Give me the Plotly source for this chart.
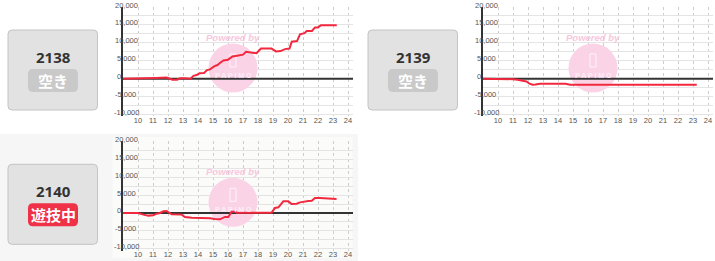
import plotly.graph_objects as go

W, H = 715, 261

# ---------------- data ----------------
machines = ["2138", "2139", "2140"]
statuses = ["空き", "空き", "遊技中"]

hours_2138 = [9, 11.0, 11.2, 11.9, 12.1, 12.3, 12.6, 12.8, 13.1, 13.3, 13.5, 13.7, 13.9,
              14.1, 14.4, 14.6, 14.8, 15.1, 15.3, 15.5, 15.7, 16.0, 16.3, 16.6, 17.0,
              17.2, 17.5, 17.9, 18.2, 18.9, 19.2, 19.5, 19.8, 20.1, 20.25, 20.6, 20.8,
              21.1, 21.25, 21.6, 21.8, 22.0, 22.2, 23.25]
values_2138 = [0, 0, 200, 300, 0, -300, -300, 100, 100, 0, 0, 800, 1000,
               1500, 1600, 2400, 2600, 3500, 3800, 4500, 5100, 5300, 6200, 6400, 6700,
               7500, 7300, 7100, 8400, 8400, 7600, 7700, 8250, 8400, 10300, 10500, 12400,
               12700, 13300, 13300, 14300, 14300, 14900, 14900]

hours_2139 = [9, 10.6, 11.0, 11.3, 11.6, 11.9, 12.1, 12.3, 12.5, 12.8, 14.5, 14.8, 23.25]
values_2139 = [0, 0, -150, -300, -500, -800, -1400, -1700, -1650, -1400, -1400, -1700, -1700]

hours_2140 = [9, 10.0, 10.36, 10.69, 11.02, 11.24, 11.47, 11.69, 11.91, 12.13, 12.24, 12.91,
              13.13, 13.58, 14.58, 14.8, 15.13, 15.47, 15.8, 16.02, 16.24, 16.47, 16.58,
              18.91, 19.13, 19.36, 19.69, 20.02, 20.24, 20.58, 20.8, 21.13, 21.36, 21.58,
              21.8, 22.13, 22.58, 23.24]
values_2140 = [0, 0, -460, -740, -650, -190, 0, 460, 560, 0, -370, -460,
               -1110, -1300, -1300, -1480, -1670, -1760, -1110, -1110, 370, 370, 90,
               90, 1390, 1570, 3240, 3240, 2500, 2590, 2960, 3060, 3330, 3430,
               4170, 4170, 3980, 3890]

series_hours = [hours_2138, hours_2139, hours_2140]
series_values = [values_2138, values_2139, values_2140]

x_tick_vals = list(range(10, 25))
x_tick_text = [str(v) for v in x_tick_vals]
y_tick_vals = [20000, 15000, 10000, 5000, 0, -5000, -10000]
y_tick_text = ["20,000", "15,000", "10,000", "5,000", "0", "-5,000", "-10,000"]
y_grid_vals = list(range(-10000, 20001, 2500))

# ---------------- geometry (pixels) ----------------
charts = [(123, 7), (483, 7), (123, 141.3)]  # (y-axis x pixel, 20000-line y pixel)
PLOT_W = 230
PLOT_H = 109.3
X_RANGE = [9, 9 + PLOT_W / 15]
Y_RANGE = [-10500, 20000]
PX_PER_UNIT_Y = PLOT_H / (Y_RANGE[1] - Y_RANGE[0])
PX_PER_UNIT_X = PLOT_W / (X_RANGE[1] - X_RANGE[0])


def fx(p):
    return p / W


def fy(p):
    return 1 - p / H


def rrect(x0, y0, x1, y1, r):
    pts = [
        f"M {fx(x0 + r)},{fy(y0)}",
        f"L {fx(x1 - r)},{fy(y0)}",
        f"Q {fx(x1)},{fy(y0)} {fx(x1)},{fy(y0 + r)}",
        f"L {fx(x1)},{fy(y1 - r)}",
        f"Q {fx(x1)},{fy(y1)} {fx(x1 - r)},{fy(y1)}",
        f"L {fx(x0 + r)},{fy(y1)}",
        f"Q {fx(x0)},{fy(y1)} {fx(x0)},{fy(y1 - r)}",
        f"L {fx(x0)},{fy(y0 + r)}",
        f"Q {fx(x0)},{fy(y0)} {fx(x0 + r)},{fy(y0)}",
        "Z",
    ]
    return " ".join(pts)


def note(x, y, text, font, xref="paper", yref="paper", xanchor="center", yshift=0):
    return dict(xref=xref, yref=yref, x=x, y=y, text=text, showarrow=False,
                xanchor=xanchor, yanchor="middle", font=font, borderpad=0, borderwidth=0,
                yshift=yshift)


fig = go.Figure()
shapes = []
annotations = []

# bottom-row grey panel and chart canvas
shapes.append(dict(type="rect", xref="paper", yref="paper", x0=fx(0), x1=fx(358),
                   y0=fy(261), y1=fy(134), fillcolor="#f6f6f6", line_width=0, layer="below"))
shapes.append(dict(type="rect", xref="paper", yref="paper", x0=fx(112.7), x1=fx(352.7),
                   y0=fy(257.7), y1=fy(137), fillcolor="#fbfcfa", line_width=0, layer="below"))

label_font = dict(family="Liberation Sans, Arial", size=7.5, color="#555555")

for i, ((ax, top), name, status, hrs, vals) in enumerate(
        zip(charts, machines, statuses, series_hours, series_values)):
    n = "" if i == 0 else str(i + 1)
    xa, ya = "x" + n, "y" + n
    fig.add_trace(go.Scatter(
        x=hrs, y=vals, mode="lines", xaxis=xa, yaxis=ya,
        line=dict(color="#f2283e", width=2), showlegend=False, hoverinfo="skip"))

    fig.update_layout(**{
        "xaxis" + n: dict(domain=[fx(ax), fx(ax + PLOT_W)], range=X_RANGE, anchor=ya,
                          tickvals=x_tick_vals, ticktext=x_tick_text, ticks="",
                          ticklabelstandoff=-2,
                          showgrid=True, gridcolor="#cdcdcd", griddash="dot", gridwidth=1,
                          zeroline=False, showline=False, tickfont=label_font,
                          fixedrange=True),
        "yaxis" + n: dict(domain=[fy(top + PLOT_H), fy(top)], range=Y_RANGE, anchor=xa,
                          tickvals=y_grid_vals, showticklabels=False, ticks="",
                          showgrid=True, gridcolor="#e4e4e4", gridwidth=1,
                          zeroline=False, showline=True, linecolor="#333333", linewidth=2,
                          fixedrange=True),
    })

    # y tick labels
    for v, t in zip(y_tick_vals, y_tick_text):
        xoff = 6 if t in ("0", "5,000") else (9.5 if t == "-10,000" else 8)
        annotations.append(note(fx(ax - xoff), v, t, label_font, yref=ya, xanchor="left",
                                yshift=2))

    # watermark (pixel -> data helpers)
    def dxf(p, ax=ax):
        return X_RANGE[0] + (p - ax) / PX_PER_UNIT_X

    def dyf(p, top=top):
        return Y_RANGE[1] - (p - top) / PX_PER_UNIT_Y

    cx, cy, r = ax + 110, top + 61, 24.5
    shapes.append(dict(type="circle", xref=xa, yref=ya,
                       x0=dxf(cx - r), x1=dxf(cx + r), y0=dyf(cy + r), y1=dyf(cy - r),
                       fillcolor="#fad3e7", line_width=0, layer="between"))
    shapes.append(dict(type="rect", xref=xa, yref=ya,
                       x0=dxf(cx - 3), x1=dxf(cx + 3), y0=dyf(top + 60), y1=dyf(top + 47),
                       fillcolor="rgba(0,0,0,0)", line=dict(color="#fff4f9", width=1),
                       layer="between"))
    # zero line
    shapes.append(dict(type="line", xref=xa, yref=ya, x0=X_RANGE[0], x1=X_RANGE[1],
                       y0=0, y1=0, line=dict(color="#333333", width=2), layer="between"))
    annotations.append(note(fx(cx), fy(top + 30.5), "<b><i>Powered by</i></b>",
                            dict(family="Liberation Sans, Arial", size=9.5, color="#f8c8de")))
    annotations.append(note(fx(cx), fy(top + 68), "<b>P A P i M O</b>",
                            dict(family="Liberation Sans, Arial", size=7, color="#fdeef5")))

    # machine card
    cl, ct = ax - 115, top + 23
    shapes.append(dict(type="path", xref="paper", yref="paper",
                       path=rrect(cl, ct, cl + 89.5, ct + 80, 4),
                       fillcolor="#e2e2e2", line=dict(color="#c4c4c4", width=1), layer="below"))
    badge_col = "#c9c9c9" if status == "空き" else "#ef3247"
    shapes.append(dict(type="path", xref="paper", yref="paper",
                       path=rrect(ax - 95, top + 62, ax - 45, top + 85, 5),
                       fillcolor=badge_col, line_width=0, layer="below"))
    annotations.append(note(fx(ax - 70), fy(top + 50), f"<b>{name}</b>",
                            dict(family="Noto Sans", size=15, color="#333333")))
    annotations.append(note(fx(ax - 70), fy(top + 73.5), f"<b>{status}</b>",
                            dict(family="Noto Sans CJK JP", size=15, color="#ffffff")))

fig.update_layout(
    width=W, height=H, margin=dict(l=0, r=0, t=0, b=0),
    paper_bgcolor="#ffffff", plot_bgcolor="rgba(0,0,0,0)",
    shapes=shapes, annotations=annotations, showlegend=False,
)

fig.write_html("out.html", config={"displayModeBar": False})
